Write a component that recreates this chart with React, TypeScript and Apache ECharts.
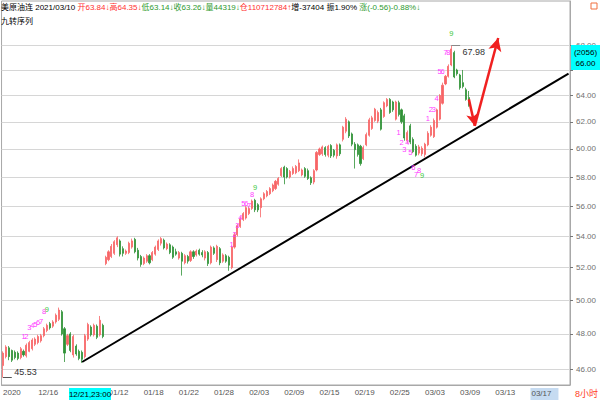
import React, { useEffect, useRef } from "react";
import * as echarts from "echarts";

// 8-hour bars, each row: [open, close, low, high]
const decBars: number[][] = [
  [46.2, 46.9, 45.53, 47.0], [46.7, 47.25, 46.6, 47.35], [47.2, 46.7, 46.5, 47.3], [47.05, 46.5, 46.4, 47.1],
  [46.95, 46.65, 46.55, 47.05], [46.9, 46.6, 46.5, 47.0], [46.65, 47.15, 46.55, 47.25], [47.0, 46.8, 46.7, 47.1],
  [46.75, 47.35, 46.65, 47.45], [47.0, 47.5, 46.95, 47.6], [47.15, 47.65, 47.05, 47.75], [47.4, 47.7, 47.3, 47.8],
  [47.5, 47.85, 47.4, 47.95], [47.6, 47.9, 47.5, 48.0], [47.9, 48.3, 47.8, 48.4], [48.2, 48.5, 48.1, 48.6],
  [48.6, 48.35, 48.25, 48.7], [48.45, 48.7, 48.35, 48.8], [48.7, 49.1, 48.6, 49.2], [48.85, 49.4, 48.75, 49.55],
  [49.3, 48.0, 47.9, 49.4], [48.3, 46.9, 46.4, 48.4], [47.4, 47.9, 47.3, 48.0], [48.0, 47.05, 46.95, 48.1],
  [46.8, 47.85, 46.65, 47.95], [47.3, 46.85, 46.75, 47.4], [47.0, 46.6, 46.5, 47.1], [46.95, 46.55, 46.35, 47.05],
  [46.7, 47.9, 46.6, 48.0], [47.7, 48.55, 47.6, 48.65], [48.4, 47.95, 47.85, 48.5], [47.95, 48.5, 47.85, 48.6],
  [48.45, 47.8, 47.7, 48.55], [47.95, 48.8, 47.85, 49.05], [48.5, 47.85, 47.75, 48.6],
];

const janBars: number[][] = [
  [52.25, 52.65, 52.15, 52.75], [52.5, 53.0, 52.4, 53.1], [52.7, 53.35, 52.6, 53.5], [52.9, 53.65, 52.8, 53.75],
  [53.45, 53.9, 53.3, 54.0], [53.7, 52.85, 52.7, 53.8], [53.2, 52.9, 52.7, 53.35], [52.9, 53.05, 52.8, 53.15],
  [52.95, 53.55, 52.85, 53.65], [53.3, 53.7, 53.2, 53.85], [53.8, 53.0, 52.9, 53.9], [53.1, 52.6, 52.45, 53.25],
  [52.7, 52.2, 52.05, 52.8], [52.25, 52.6, 52.15, 52.7], [52.4, 52.75, 52.3, 52.85], [52.75, 52.3, 52.2, 52.85],
  [52.5, 52.95, 52.4, 53.05], [52.85, 53.3, 52.75, 53.4], [53.15, 53.7, 53.05, 53.8], [53.55, 53.85, 53.4, 53.95],
  [53.75, 53.25, 53.15, 53.85], [53.2, 53.5, 53.1, 53.6], [53.45, 52.95, 52.85, 53.55], [53.3, 52.65, 52.55, 53.4],
  [53.0, 52.85, 52.75, 53.2], [52.6, 52.95, 52.5, 53.05], [52.9, 52.4, 51.5, 53.0], [52.3, 52.75, 52.2, 52.85],
  [52.7, 52.4, 52.25, 52.8], [52.45, 53.0, 52.35, 53.1], [53.0, 52.7, 52.55, 53.1], [52.8, 53.05, 52.7, 53.15],
  [53.1, 52.85, 52.75, 53.2], [52.95, 52.8, 52.65, 53.1], [52.6, 53.0, 52.45, 53.1], [52.95, 52.25, 52.1, 53.05],
  [52.3, 53.3, 52.2, 53.4], [53.25, 52.9, 52.8, 53.35], [52.5, 53.35, 52.35, 53.45], [53.2, 52.3, 52.15, 53.3],
  [52.4, 52.8, 52.3, 52.9], [52.75, 52.4, 52.3, 52.85], [52.65, 52.15, 51.8, 52.75], [52.0, 53.3, 51.9, 53.4],
  [53.3, 54.1, 53.2, 54.25],
];

const febBars: number[][] = [
  [54.1, 54.7, 54.0, 54.8], [54.65, 55.15, 54.55, 55.3], [55.1, 55.5, 55.0, 55.6], [55.2, 55.9, 55.1, 56.0],
  [55.5, 55.85, 55.4, 56.0], [55.85, 56.35, 55.75, 56.45], [56.4, 55.75, 55.6, 56.5], [56.1, 55.75, 55.6, 56.2],
  [55.9, 56.5, 55.25, 56.6], [56.5, 56.85, 56.4, 56.95], [56.7, 57.0, 56.6, 57.1], [56.85, 57.2, 56.75, 57.3],
  [57.05, 57.45, 56.95, 57.55], [57.2, 57.7, 57.1, 57.8], [57.5, 57.9, 57.4, 58.0], [58.1, 58.6, 58.0, 58.7],
  [58.7, 58.0, 57.5, 58.8], [58.6, 58.0, 57.9, 58.7], [58.0, 58.4, 57.9, 58.5], [58.25, 58.6, 58.15, 58.75],
  [58.3, 58.75, 58.2, 58.85], [58.45, 59.0, 58.35, 59.25], [58.15, 58.5, 58.05, 58.6], [58.6, 58.05, 57.95, 58.7],
  [58.45, 57.9, 57.8, 58.6], [57.95, 57.6, 57.45, 58.05], [57.65, 58.45, 57.5, 58.55], [58.5, 59.75, 58.4, 59.85],
  [59.6, 60.0, 59.5, 60.1], [59.65, 60.15, 59.5, 60.25], [60.1, 59.6, 59.45, 60.2], [59.55, 60.2, 59.4, 60.3],
  [60.25, 59.5, 59.35, 60.35], [59.9, 59.55, 59.4, 60.0], [59.5, 60.3, 59.3, 60.4], [60.3, 59.65, 59.5, 60.4],
  [60.7, 61.6, 60.55, 61.7], [61.3, 62.2, 61.15, 62.35], [62.0, 60.95, 60.8, 62.1], [61.1, 60.35, 60.2, 61.2],
  [60.35, 59.95, 58.6, 60.5], [60.3, 59.6, 59.45, 60.4], [60.2, 58.95, 58.8, 60.3], [59.3, 60.1, 59.2, 60.25],
  [60.3, 61.05, 60.2, 61.2], [61.0, 62.15, 60.9, 62.3], [61.5, 62.3, 61.4, 62.45], [62.1, 62.95, 62.0, 63.05],
  [62.05, 62.7, 61.9, 62.85], [62.9, 61.45, 61.35, 63.05], [62.4, 63.45, 62.3, 63.55], [63.2, 63.7, 63.1, 63.8],
  [63.7, 62.7, 62.6, 63.8], [63.5, 62.9, 62.75, 63.6], [62.2, 63.5, 62.1, 63.6], [63.45, 62.55, 62.4, 63.6],
  [62.9, 62.0, 61.85, 63.0], [62.45, 60.8, 60.6, 62.6],
];

const marBars: number[][] = [
  [60.6, 61.2, 60.4, 61.35], [61.7, 60.5, 60.35, 61.85], [60.7, 59.8, 59.7, 60.85], [60.2, 59.55, 59.45, 60.35],
  [59.7, 60.15, 59.55, 60.3], [59.65, 60.05, 59.5, 60.2], [59.6, 60.35, 59.4, 60.45], [60.3, 61.15, 60.2, 61.3],
  [61.0, 61.6, 60.9, 61.75], [60.9, 62.1, 60.8, 62.25], [61.6, 62.9, 61.5, 63.0], [62.2, 64.0, 62.1, 64.1],
  [63.4, 64.8, 63.3, 65.0], [64.9, 65.5, 64.8, 65.6], [65.5, 66.3, 65.4, 66.45], [66.4, 67.7, 66.3, 67.98],
  [67.4, 65.45, 65.35, 67.55], [66.0, 65.7, 65.55, 66.1], [65.6, 64.6, 64.45, 65.7], [65.0, 64.7, 64.55, 66.0],
  [64.45, 63.7, 63.6, 64.6], [63.84, 63.26, 63.14, 64.35],
];

// one label every 12 slots; the third one is the cursor tag
const xTickLabels = ["2020", "12/16", "12/21,23:00", "01/12", "01/18", "01/22", "01/28", "02/03", "02/09",
  "02/15", "02/19", "02/25", "03/03", "03/09", "03/13", "03/17"];
const cursorSlot = 24;
const slotCount = 194;
const yTickValues = [46, 48, 50, 52, 54, 56, 58, 60, 62, 64, 66, 68];
const cursorPrice = 66;
const cursorVolume = "(2056)";
const priceFloor = 45.13;
const priceCeil = 71.73;

// 九转序列 labels: [bar index, price, count]
const tdDec: [number, number, string][] = [
  [7, 47.86, "1"], [8, 47.86, "2"], [9, 48.38, "3"], [10, 48.5, "4"], [11, 48.56, "5"],
  [12, 48.67, "6"], [13, 48.73, "7"], [14, 49.3, "8"], [15, 49.42, "9"],
];
const tdFeb: [number, number, string][] = [
  [78, 53.5, "1"], [79, 54.1, "2"], [80, 54.7, "3"], [81, 55.25, "4"], [82, 56.2, "5"],
  [83, 56.2, "6"], [84, 56.05, "7"], [85, 56.8, "8"], [86, 57.25, "9"],
];
const tdBuy: [number, number, string][] = [
  [135, 61.22, "1"], [136, 60.5, "2"], [137, 59.93, "3"], [138, 60.5, "4"], [139, 59.78, "5"],
  [140, 58.66, "6"], [141, 58.17, "7"], [142, 58.45, "8"], [143, 58.1, "9"],
];
const tdMar: [number, number, string][] = [
  [145, 62.26, "1"], [146, 62.94, "2"], [147, 62.94, "3"], [148, 63.77, "4"], [149, 65.9, "5"],
  [150, 65.9, "6"], [151, 67.4, "7"], [152, 67.4, "8"], [153, 69.0, "9"],
];

// hand drawn marks: [bar index, price]
const trendLine: [number, number][] = [[27, 46.4], [193, 65.71]];
const arrowPath: [number, number][] = [[159, 63.7], [161, 61.7], [169, 68.6]];

const FONT = "'Liberation Sans', Arial, 'Noto Sans CJK SC', sans-serif";
const RED = "#f76466";
const GREEN = "#2f9236";
const MAGENTA = "#ff3cff";
const NINE = "#3cc83c";

const App: React.FC = () => {
  const chartRef = useRef<HTMLDivElement>(null);

  useEffect(() => {
    if (!chartRef.current) return;
    const chart = echarts.init(chartRef.current, null, { renderer: "svg" });

    const bars = [...decBars, ...janBars, ...febBars, ...marBars];
    const logBars = bars.map((b) => b.map((v) => Math.log(v)));
    const categories = Array.from({ length: slotCount }, (_, i) =>
      i % 12 === 0 && xTickLabels[i / 12] ? xTickLabels[i / 12] : `#${i}`
    );
    const cursorLabel = categories[cursorSlot];

    let hiIdx = 0;
    let loIdx = 0;
    bars.forEach((b, i) => {
      if (b[3] > bars[hiIdx][3]) hiIdx = i;
      if (b[2] < bars[loIdx][2]) loIdx = i;
    });
    const hi = bars[hiIdx][3];
    const lo = bars[loIdx][2];
    const lastClose = bars[bars.length - 1][1];

    const tdPoint = ([i, v, t]: [number, number, string]) => ({
      coord: [i, Math.log(v)],
      name: t,
      label: { color: t === "9" ? NINE : MAGENTA },
    });

    const option: any = {
      animation: false,
      backgroundColor: "#ffffff",
      grid: {
        left: 1, right: 30, top: 1, bottom: 13,
        show: true, borderColor: "#a8a8a8", borderWidth: 1, backgroundColor: "#fff",
      },
      xAxis: {
        type: "category",
        data: categories,
        boundaryGap: true,
        axisLine: { lineStyle: { color: "#a8a8a8" } },
        axisTick: {
          alignWithLabel: true,
          interval: (i: number) => i % 12 === 10,
          length: 3,
          lineStyle: { color: "#777" },
        },
        axisLabel: {
          interval: 11,
          align: "left",
          margin: 3,
          fontSize: 8,
          fontFamily: FONT,
          color: "#555",
          // the cursor slot is drawn as a tag below
          formatter: (v: string) =>
            v.startsWith("#") || v === cursorLabel ? "" : v === "03/17" ? `{sel|${v}}` : v,
          rich: {
            sel: { backgroundColor: "#c6dbf1", padding: [2, 7, 2, 1], fontSize: 8, fontFamily: FONT, color: "#555" },
          },
        },
        splitLine: { show: false },
      },
      yAxis: {
        type: "value",
        position: "right",
        min: Math.log(priceFloor),
        max: Math.log(priceCeil),
        axisLine: { show: true, lineStyle: { color: "#a8a8a8" } },
        axisTick: { show: true, length: 3, customValues: yTickValues.map((v) => Math.log(v)), lineStyle: { color: "#777" } },
        axisLabel: {
          // the cursor price covers its own tick label
          customValues: yTickValues.filter((v) => v !== cursorPrice).map((v) => Math.log(v)),
          formatter: (v: number) => Math.exp(v).toFixed(2),
          fontSize: 8,
          fontFamily: FONT,
          color: "#707070",
          margin: 6,
        },
        splitLine: { show: true, lineStyle: { color: "#d6d6d6", width: 1 } },
      },
      series: [
        {
          type: "candlestick",
          data: logBars,
          barWidth: 1.6,
          itemStyle: {
            color: RED, color0: GREEN, borderColor: RED, borderColor0: GREEN, borderWidth: 0.8,
          },
          markPoint: {
            silent: true,
            symbol: "circle",
            symbolSize: 1,
            itemStyle: { color: "rgba(0,0,0,0)" },
            label: {
              show: true,
              position: "inside",
              formatter: (p: any) => p.name,
              fontSize: 7.5,
              fontFamily: FONT,
            },
            data: [
              ...tdDec.map(tdPoint),
              ...tdFeb.map(tdPoint),
              ...tdBuy.map(tdPoint),
              ...tdMar.map(tdPoint),
              {
                coord: [hiIdx + 4, Math.log(hi)],
                name: hi.toFixed(2),
                label: { position: [0, 2], color: "#333", fontSize: 9 },
              },
              {
                coord: [loIdx + 4, Math.log(lo)],
                name: lo.toFixed(2),
                label: { position: [0, -10], color: "#333", fontSize: 9 },
              },
            ],
          },
          markLine: {
            silent: true,
            symbol: ["none", "none"],
            label: { show: false },
            data: [
              [
                { coord: [trendLine[0][0], Math.log(trendLine[0][1])], lineStyle: { color: "#000", width: 2, type: "solid" } },
                { coord: [trendLine[1][0], Math.log(trendLine[1][1])] },
              ],
              [
                { coord: [arrowPath[0][0], Math.log(arrowPath[0][1])], lineStyle: { color: "#f02020", width: 2.5, type: "solid" } },
                { coord: [arrowPath[1][0], Math.log(arrowPath[1][1])], symbol: "arrow", symbolSize: [9, 12] },
              ],
              [
                { coord: [arrowPath[1][0], Math.log(arrowPath[1][1])], lineStyle: { color: "#f02020", width: 2.5, type: "solid" } },
                { coord: [arrowPath[2][0], Math.log(arrowPath[2][1])], symbol: "arrow", symbolSize: [10, 13] },
              ],
              [
                { coord: [hiIdx, Math.log(hi)], lineStyle: { color: "#888", width: 1, type: "solid" } },
                { coord: [hiIdx + 3, Math.log(hi)] },
              ],
              [
                { coord: [loIdx, Math.log(lo)], lineStyle: { color: "#555", width: 1, type: "solid" } },
                { coord: [loIdx + 3, Math.log(lo)] },
              ],
              {
                yAxis: Math.log(lastClose),
                lineStyle: { opacity: 0 },
                label: {
                  show: true,
                  position: "end",
                  distance: 3,
                  formatter: lastClose.toFixed(2),
                  color: "#ff3333",
                  fontSize: 8,
                  fontFamily: FONT,
                  backgroundColor: "#e2f2e2",
                  borderRadius: 6,
                  padding: [2, 3, 1, 4],
                },
              },
            ],
          },
        },
      ],
      graphic: [
        {
          type: "text", x: 1, y: 7, z: 100,
          style: {
            text:
              "{k|美原油连 2021/03/10 }{r|开63.84↓高64.35↓}{g|低63.14↓收63.26↓量44319↓}{r|仓110712784↑}{k|增-37404 振1.90% }{g|涨(-0.56)-0.88%↓}",
            verticalAlign: "middle",
            rich: {
              k: { fill: "#000", fontSize: 8, fontFamily: FONT },
              r: { fill: "#ff3030", fontSize: 8, fontFamily: FONT },
              g: { fill: "#2e9a2e", fontSize: 8, fontFamily: FONT },
            },
          },
        },
        {
          type: "text", x: 1, y: 21, z: 100,
          style: { text: "九转序列", fill: "#000", fontSize: 8, fontFamily: FONT, verticalAlign: "middle" },
        },
        {
          type: "rect", x: 591, y: 3, z: 100,
          shape: { width: 6, height: 6 },
          style: { fill: "none", stroke: "#f07040", lineWidth: 1 },
        },
        {
          type: "rect", x: 571, y: 45, z: 100,
          shape: { width: 29, height: 25 },
          style: { fill: "#00ffff" },
        },
        {
          type: "text", x: 585.5, y: 52, z: 101,
          style: { text: cursorVolume, fill: "#000", fontSize: 8, fontFamily: FONT, align: "center", verticalAlign: "middle" },
        },
        {
          type: "text", x: 585.5, y: 63.5, z: 101,
          style: { text: cursorPrice.toFixed(2), fill: "#000", fontSize: 8, fontFamily: FONT, align: "center", verticalAlign: "middle" },
        },
        {
          type: "rect", x: 69, y: 388, z: 100,
          shape: { width: 42, height: 12 },
          style: { fill: "#00ffff" },
        },
        {
          type: "text", x: 90, y: 394, z: 101,
          style: { text: cursorLabel, fill: "#000", fontSize: 8, fontFamily: FONT, align: "center", verticalAlign: "middle" },
        },
        {
          type: "text", x: 575, y: 394, z: 100,
          style: { text: "8小时", fill: "#ff3c1e", fontSize: 9, fontFamily: FONT, verticalAlign: "middle" },
        },
      ],
    };

    chart.setOption(option);
    return () => {
      chart.dispose();
    };
  }, []);

  return (
    <div
      ref={chartRef}
      style={{ position: "fixed", left: 0, top: 0, width: 600, height: 400, background: "#fff" }}
    />
  );
};

export default App;
